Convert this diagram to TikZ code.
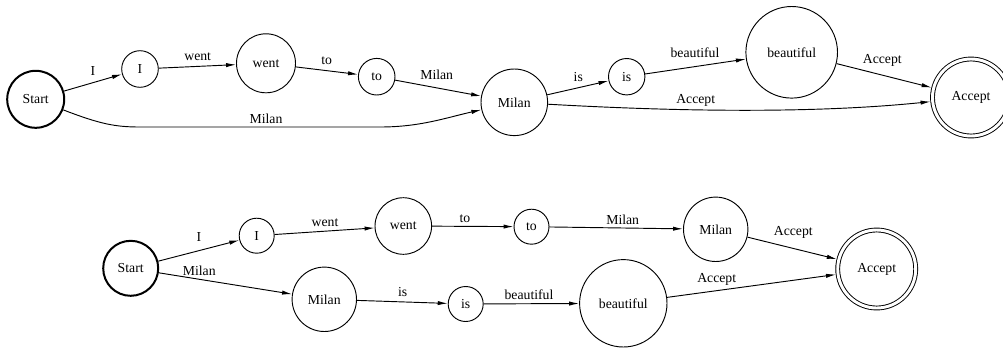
\documentclass[tikz,border=0pt]{standalone}
\usepackage{fontspec}
\setmainfont{Liberation Serif}
\usetikzlibrary{arrows.meta}
\begin{document}
\begin{tikzpicture}[x=0.75pt,y=-0.75pt,
  st/.style={circle,draw,line width=0.7pt,inner sep=0pt,minimum size={#1*0.75pt},font=\fontsize{10.3}{12}\selectfont},
  startst/.style={st=#1,line width=1.5pt},
  acc/.style={st=#1,double,double distance=2.2pt,outer sep=1.6pt},
  lbl/.style={inner sep=0pt,font=\fontsize{10.3}{12}\selectfont},
  arr/.style={line width=0.7pt,-{Latex[length=7.5pt,width=3.2pt]}}
]
\useasboundingbox (0,0) rectangle (1003,347);
% ---------- top automaton ----------
\node[startst=57] (s1) at (35.7,99.3) {Start};
\node[st=36.6] (i1) at (140,69) {I};
\node[st=59] (w1) at (266,63.3) {went};
\node[st=36.6] (t1) at (376.7,76.7) {to};
\node[st=66.6] (m1) at (514.3,102.3) {Milan};
\node[st=36.4] (is1) at (626.7,76.7) {is};
\node[st=91.6] (b1) at (791.7,52.3) {beautiful};
\node[acc=77] (a1) at (971,97.5) {Accept};
\coordinate (c1) at (140,127);
\coordinate (c2) at (380,127);

\draw[arr] (s1) -- (i1);
\draw[arr] (i1) -- (w1);
\draw[arr] (w1) -- (t1);
\draw[arr] (t1) -- (m1);
\draw[arr] (m1) -- (is1);
\draw[arr] (is1) -- (b1);
\draw[arr] (b1) -- (a1);
\draw[arr] (s1) .. controls (100,124) and (115,127) .. (c1) -- (c2) .. controls (420,127) and (445,118) .. (m1);
\draw[arr] (m1) .. controls (650,110) and (800,115) .. (a1);

\node[lbl] (l1) at (93,70.7) {I};
\node[lbl] (l2) at (197.7,56.7) {went};
\node[lbl] (l3) at (326.7,61) {to};
\node[lbl] (l4) at (436.7,74.3) {Milan};
\node[lbl] (l5) at (266,118.3) {Milan};
\node[lbl] (l6) at (578.3,77) {is};
\node[lbl] (l7) at (695,52.7) {beautiful};
\node[lbl] (l8) at (882.3,60) {Accept};
\node[lbl] (l9) at (695.7,100.7) {Accept};

% ---------- bottom automaton ----------
\node[startst=55] (s2) at (130.7,268.3) {Start};
\node[st=35] (i2) at (256.7,235.7) {I};
\node[st=56.6] (w2) at (403.3,226) {went};
\node[st=35] (t2) at (531.5,226.7) {to};
\node[st=64.4] (m2) at (715.7,229.3) {Milan};
\node[acc=78] (a2) at (876.7,269) {Accept};
\node[st=64.4] (m3) at (324.3,299.3) {Milan};
\node[st=35] (is2) at (465.7,304) {is};
\node[st=87.4] (b2) at (623.3,303.3) {beautiful};

\draw[arr] (s2) -- (i2);
\draw[arr] (i2) -- (w2);
\draw[arr] (w2) -- (t2);
\draw[arr] (t2) -- (m2);
\draw[arr] (m2) -- (a2);
\draw[arr] (s2) -- (m3);
\draw[arr] (m3) -- (is2);
\draw[arr] (is2) -- (b2);
\draw[arr] (b2) -- (a2);

\node[lbl] (k1) at (199,237.3) {I};
\node[lbl] (k2) at (325,222.3) {went};
\node[lbl] (k3) at (465,218.3) {to};
\node[lbl] (k4) at (622.7,219.3) {Milan};
\node[lbl] (k5) at (793.3,232.7) {Accept};
\node[lbl] (k6) at (199.3,270.7) {Milan};
\node[lbl] (k7) at (402.7,292.3) {is};
\node[lbl] (k8) at (529,295) {beautiful};
\node[lbl] (k9) at (716.7,279) {Accept};
\end{tikzpicture}
\end{document}
